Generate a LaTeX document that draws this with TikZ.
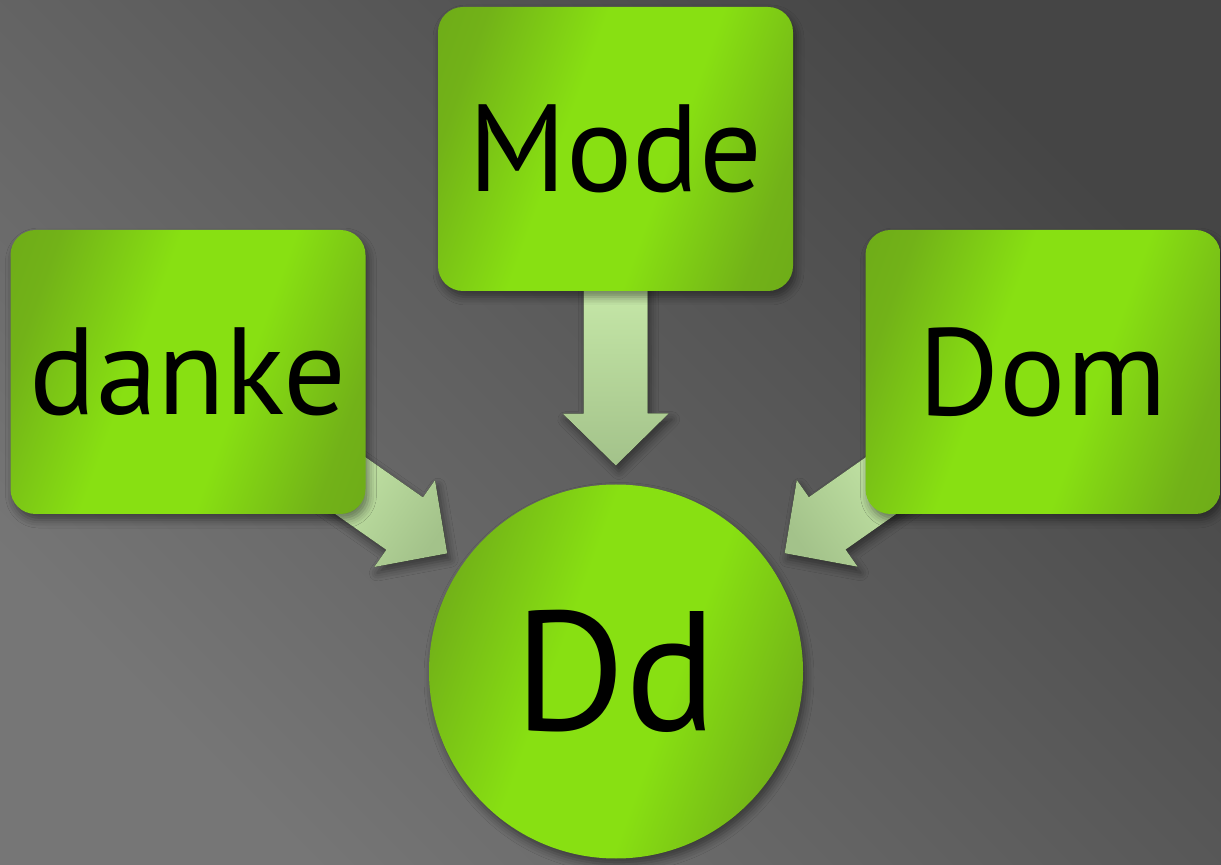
\documentclass[tikz,border=0pt]{standalone}
\usepackage{fontspec}
\setmainfont{PT Sans}
\usetikzlibrary{calc,shadows.blur}
\definecolor{bgLight}{HTML}{767676}
\definecolor{bgDark}{HTML}{454545}
\definecolor{gDarker}{HTML}{659E1A}
\definecolor{gDark}{HTML}{72B218}
\definecolor{gBright}{HTML}{88E012}
\definecolor{aLight}{HTML}{C6E8A8}
\definecolor{aDark}{HTML}{A3C28A}
\pgfdeclareverticalshading{gshade}{100bp}{color(0bp)=(gDarker); color(25bp)=(gDark); color(42bp)=(gBright); color(58bp)=(gBright); color(75bp)=(gDark); color(100bp)=(gDarker)}
\tikzset{
 gfill/.style={shading=gshade, shading angle=70},
 sh/.style={blur shadow={shadow xshift=1.5pt, shadow yshift=-3pt, shadow blur radius=4pt, shadow opacity=45}},
 box/.style={rectangle, rounded corners=12.5pt, gfill, sh, minimum width=177.5pt, minimum height=142pt, inner sep=0pt, font=\fontsize{62}{62}\selectfont, text=black},
 circ/.style={circle, gfill, sh, minimum size=187pt, inner sep=0pt, font=\fontsize{85}{85}\selectfont, text=black},
 blockarrow/.style={sh, shading=axis, top color=aLight, bottom color=aDark}
}
\newcommand\blockarr[3]{%
 \coordinate (bb) at ($(#2)!26pt!(#1)$);
 \fill[blockarrow, shading angle=#3]
  ($(#1)!16pt!90:(#2)$) -- ($(bb)!16pt!-90:(#1)$) -- ($(bb)!26.5pt!-90:(#1)$) -- (#2)
  -- ($(bb)!26.5pt!90:(#1)$) -- ($(bb)!16pt!90:(#1)$) -- ($(#1)!16pt!-90:(#2)$) -- cycle;
}
\begin{document}
\begin{tikzpicture}[x=0.5pt,y=-0.5pt]
\useasboundingbox (0,0) rectangle (1221,865);
\fill[shading=axis, top color=bgDark, bottom color=bgLight, shading angle=-45] (0,0) rectangle (1221,865);
% node positions (drawn later)
\path (615.5,149) coordinate (cM) (188,372) coordinate (cD) (1043,372) coordinate (cO) (616,671.5) coordinate (cC);
\coordinate (tipM) at ($(cC)!103pt!(cM)$);
\coordinate (tipD) at ($(cC)!103pt!(cD)$);
\coordinate (tipO) at ($(cC)!103pt!(cO)$);
\coordinate (sM) at ($(cM)+(0,135)$);
\coordinate (sD) at ($(cD)!0.55!(tipD)$);
\coordinate (sO) at ($(cO)!0.55!(tipO)$);
\blockarr{sM}{tipM}{0}
\blockarr{sD}{tipD}{55}
\blockarr{sO}{tipO}{-55}
\node[box] (mode) at (cM) {Mode};
\node[box] (danke) at (cD) {danke};
\node[box] (dom) at (cO) {Dom};
\node[circ] (dd) at (cC) {Dd};
\end{tikzpicture}
\end{document}
